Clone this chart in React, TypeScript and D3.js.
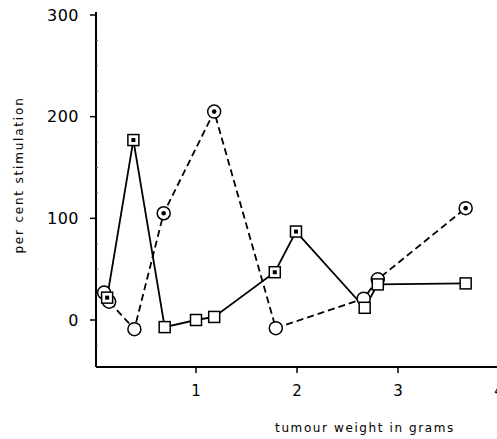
import React from "react";
import * as d3 from "d3";

// solid line, square markers
const solidWeight = [0.12, 0.38, 0.69, 1.0, 1.18, 1.78, 1.99, 2.67, 2.8, 3.67];
const solidStim = [22, 177, -7, 0, 3, 47, 87, 12, 35, 36];
const solidDotted = [true, true, false, false, false, true, true, false, false, false];

// dashed line, circle markers
const dashWeight = [0.09, 0.14, 0.39, 0.68, 1.18, 1.79, 2.66, 2.8, 3.67];
const dashStim = [27, 18, -9, 105, 205, -8, 21, 40, 110];
const dashDotted = [false, false, false, true, true, false, false, false, true];

const xTicks = [1, 2, 3, 4];
const yTicks = [0, 100, 200, 300];
const yMinor = [-25, 25, 50, 75, 125, 150, 175, 225, 250, 275];

const W = 497;
const H = 439;
const FONT = "'DejaVu Sans', sans-serif";

export default function App() {
  const x = d3.scaleLinear().domain([0, 4]).range([95, 499]);
  const y = d3.scaleLinear().domain([0, 300]).range([320, 15]);
  const axisX = 96;
  const axisY = 367;
  const yTop = 12;

  const line = d3
    .line<[number, number]>()
    .x(d => x(d[0]))
    .y(d => y(d[1]));

  const solidPts = solidWeight.map((w, i) => [w, solidStim[i]] as [number, number]);
  const dashPts = dashWeight.map((w, i) => [w, dashStim[i]] as [number, number]);

  return (
    <svg
      width={W}
      height={H}
      style={{ position: "absolute", left: 0, top: 0, background: "#fff" }}
    >
      {/* axes */}
      <line x1={axisX} x2={axisX} y1={yTop} y2={axisY} stroke="#000" strokeWidth={2} />
      <line x1={axisX} x2={W} y1={axisY} y2={axisY} stroke="#000" strokeWidth={2} />
      {yTicks.map(t => (
        <g key={t}>
          <line x1={axisX - 6} x2={axisX} y1={y(t)} y2={y(t)} stroke="#000" strokeWidth={1.5} />
          <text
            x={axisX - 17}
            y={y(t)}
            textAnchor="end"
            dominantBaseline="central"
            fontFamily={FONT}
            fontSize={16}
            letterSpacing={0.5}
          >
            {t}
          </text>
        </g>
      ))}
      {yMinor.map(t => (
        <line key={t} x1={axisX} x2={axisX + 2} y1={y(t)} y2={y(t)} stroke="#555" strokeWidth={1} />
      ))}
      {xTicks.map(t => (
        <g key={t}>
          <line x1={x(t)} x2={x(t)} y1={axisY} y2={axisY + 6} stroke="#000" strokeWidth={1.5} />
          <text
            x={x(t)}
            y={axisY + 24}
            textAnchor="middle"
            dominantBaseline="central"
            fontFamily={FONT}
            fontSize={15}
          >
            {t}
          </text>
        </g>
      ))}
      <text
        x={365}
        y={428}
        textAnchor="middle"
        dominantBaseline="central"
        fontFamily={FONT}
        fontSize={12}
        letterSpacing={1.6}
      >
        tumour weight in grams
      </text>
      <text
        transform={`translate(19,${175}) rotate(-90)`}
        textAnchor="middle"
        dominantBaseline="central"
        fontFamily={FONT}
        fontSize={12}
        letterSpacing={1.8}
      >
        per cent stimulation
      </text>

      {/* lines */}
      <path d={line(dashPts) ?? ""} fill="none" stroke="#000" strokeWidth={1.8} strokeDasharray="7,4" />
      <path d={line(solidPts) ?? ""} fill="none" stroke="#000" strokeWidth={1.8} />

      {/* markers */}
      {dashPts.map((p, i) => (
        <g key={"c" + i}>
          <circle cx={x(p[0])} cy={y(p[1])} r={6.5} fill="#fff" stroke="#000" strokeWidth={1.5} />
          {dashDotted[i] && <circle cx={x(p[0])} cy={y(p[1])} r={2.3} fill="#000" />}
        </g>
      ))}
      {solidPts.map((p, i) => (
        <g key={"s" + i}>
          <rect
            x={x(p[0]) - 5.5}
            y={y(p[1]) - 5.5}
            width={11}
            height={11}
            fill="#fff"
            stroke="#000"
            strokeWidth={1.5}
          />
          {solidDotted[i] && <rect x={x(p[0]) - 2} y={y(p[1]) - 2} width={4} height={4} fill="#000" />}
        </g>
      ))}
    </svg>
  );
}
